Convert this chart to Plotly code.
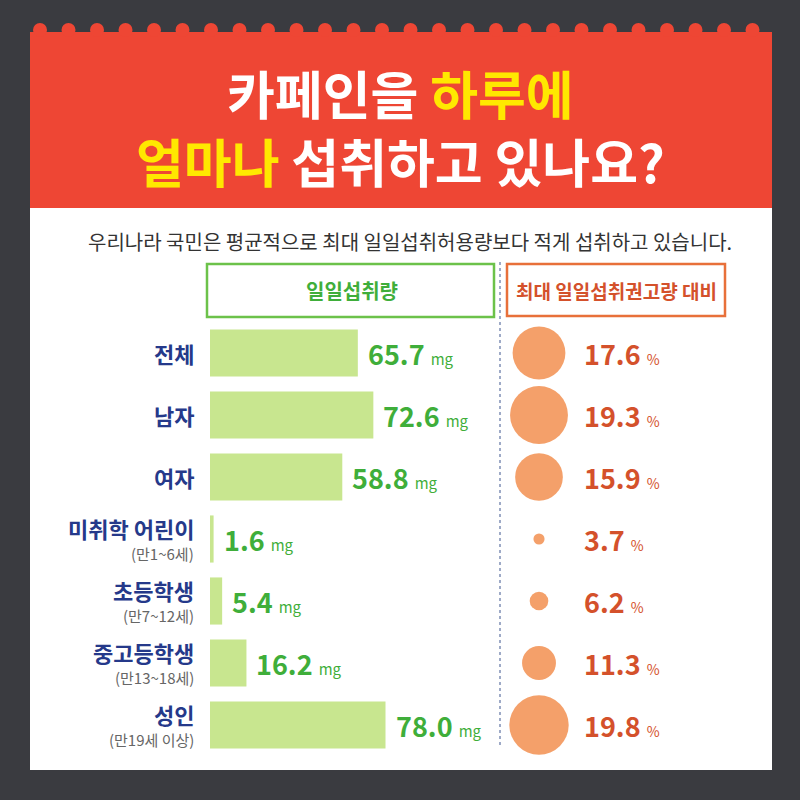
import plotly.graph_objects as go

# ---------------- data ----------------
categories = ["전체", "남자", "여자", "미취학 어린이", "초등학생", "중고등학생", "성인"]
sub_labels = ["", "", "", "(만1~6세)", "(만7~12세)", "(만13~18세)", "(만19세 이상)"]
intake_mg = [65.7, 72.6, 58.8, 1.6, 5.4, 16.2, 78.0]
pct_of_max = [17.6, 19.3, 15.9, 3.7, 6.2, 11.3, 19.8]

title_l1 = ("카페인을 ", "하루에")
title_l2 = ("얼마나", " 섭취하고 있나요?")
subtitle = "우리나라 국민은 평균적으로 최대 일일섭취허용량보다 적게 섭취하고 있습니다."
head_left = "일일섭취량"
head_right = "최대 일일섭취권고량 대비"

# ---------------- style ----------------
W = H = 800
BG = "#3a3b40"
RED = "#ee4634"
YEL = "#ffe800"
BAR = "#c8e68f"
GREEN_T = "#3fae3a"
NAVY = "#25398a"
GRAY = "#666666"
CIRC = "#f4a06a"
ORANGE_T = "#d4512b"
FONT = "Noto Sans CJK KR"
NUMFONT = "Noto Sans CJK KR"

def px(x):
    return x / W

def py(y):
    return 1 - y / H

fig = go.Figure()

fig.add_trace(go.Bar(
    x=intake_mg, y=categories, orientation="h",
    marker=dict(color=BAR, line=dict(width=0)),
    xaxis="x", yaxis="y", hoverinfo="skip", showlegend=False,
))

fig.add_trace(go.Scatter(
    x=[0] * len(categories), y=categories, mode="markers",
    marker=dict(size=[v * 3.0 for v in pct_of_max], sizemode="diameter",
                color=CIRC, opacity=1, line=dict(width=0)),
    cliponaxis=False,
    xaxis="x2", yaxis="y", hoverinfo="skip", showlegend=False,
))

shapes = []
# white panel
shapes.append(dict(type="rect", xref="paper", yref="paper",
                   x0=px(30), x1=px(772), y0=py(770), y1=py(207),
                   fillcolor="white", line=dict(width=0), layer="below"))
# red header
shapes.append(dict(type="rect", xref="paper", yref="paper",
                   x0=px(30), x1=px(772), y0=py(208), y1=py(32),
                   fillcolor=RED, line=dict(width=0), layer="below"))
# scallops
cx = 40.0
while cx < 772:
    shapes.append(dict(type="circle", xref="paper", yref="paper",
                       x0=px(cx - 7), x1=px(cx + 7), y0=py(37), y1=py(23),
                       fillcolor=RED, line=dict(width=0), layer="below"))
    cx += 28.5
# header boxes
shapes.append(dict(type="rect", xref="paper", yref="paper",
                   x0=px(207), x1=px(494), y0=py(317), y1=py(264),
                   line=dict(color="#6cc24a", width=2.5), fillcolor="rgba(0,0,0,0)"))
shapes.append(dict(type="rect", xref="paper", yref="paper",
                   x0=px(507), x1=px(725), y0=py(316), y1=py(264),
                   line=dict(color="#e8703a", width=2.5), fillcolor="rgba(0,0,0,0)"))
# dotted divider
shapes.append(dict(type="line", xref="paper", yref="paper",
                   x0=px(500), x1=px(500), y0=py(262), y1=py(748),
                   line=dict(color="#7f8fb5", width=1.5, dash="dot")))

ann = []
ann.append(dict(xref="paper", yref="paper", x=px(400), y=py(127), showarrow=False,
                xanchor="center", yanchor="middle", align="center",
                text=(f"<b>{title_l1[0]}<span style='color:{YEL}'>{title_l1[1]}</span>"
                      f"<br><span style='color:{YEL}'>{title_l2[0]}</span>{title_l2[1]}</b>"),
                font=dict(family=FONT, size=52, color="white")))
ann.append(dict(xref="paper", yref="paper", x=px(410), y=py(241), showarrow=False,
                xanchor="center", yanchor="middle",
                text=subtitle, font=dict(family=FONT, size=20, color="#333333")))
ann.append(dict(xref="paper", yref="paper", x=px(352), y=py(290), showarrow=False,
                xanchor="center", yanchor="middle",
                text=f"<b>{head_left}</b>", font=dict(family=FONT, size=20, color=GREEN_T)))
ann.append(dict(xref="paper", yref="paper", x=px(616), y=py(290), showarrow=False,
                xanchor="center", yanchor="middle",
                text=f"<b>{head_right}</b>", font=dict(family=FONT, size=19, color=ORANGE_T)))

for cat, sub, v, p in zip(categories, sub_labels, intake_mg, pct_of_max):
    if sub:
        ann.append(dict(xref="paper", yref="y", x=px(196), y=cat, yshift=11,
                        xanchor="right", yanchor="middle", showarrow=False,
                        text=f"<b>{cat}</b>", font=dict(family=FONT, size=22, color=NAVY)))
        ann.append(dict(xref="paper", yref="y", x=px(196), y=cat, yshift=-14,
                        xanchor="right", yanchor="middle", showarrow=False,
                        text=sub, font=dict(family=FONT, size=15, color=GRAY)))
    else:
        ann.append(dict(xref="paper", yref="y", x=px(196), y=cat,
                        xanchor="right", yanchor="middle", showarrow=False,
                        text=f"<b>{cat}</b>", font=dict(family=FONT, size=22, color=NAVY)))
    ann.append(dict(xref="x", yref="y", x=v, y=cat, xshift=8,
                    xanchor="left", yanchor="middle", showarrow=False,
                    text=f"<b>{v:.1f}</b> <span style='font-size:15px'>mg</span>",
                    font=dict(family=NUMFONT, size=27, color=GREEN_T)))
    ann.append(dict(xref="paper", yref="y", x=px(582), y=cat,
                    xanchor="left", yanchor="middle", showarrow=False,
                    text=f"<b>{p:.1f}</b> <span style='font-size:14px'>%</span>",
                    font=dict(family=NUMFONT, size=27, color=ORANGE_T)))

fig.update_layout(
    width=W, height=H,
    margin=dict(l=0, r=0, t=0, b=0),
    paper_bgcolor=BG, plot_bgcolor="rgba(0,0,0,0)",
    bargap=0.24,
    shapes=shapes, annotations=ann,
    xaxis=dict(domain=[px(210), px(490)], range=[0, 280 / 2.25],
               visible=False, fixedrange=True),
    xaxis2=dict(domain=[px(512), px(566)], range=[-1, 1],
                visible=False, fixedrange=True),
    yaxis=dict(domain=[py(756), py(322)], type="category",
               categoryorder="array", categoryarray=categories,
               range=[6.5, -0.5], autorange=False,
               visible=False, fixedrange=True),
    showlegend=False,
)

fig.write_html("out.html")
